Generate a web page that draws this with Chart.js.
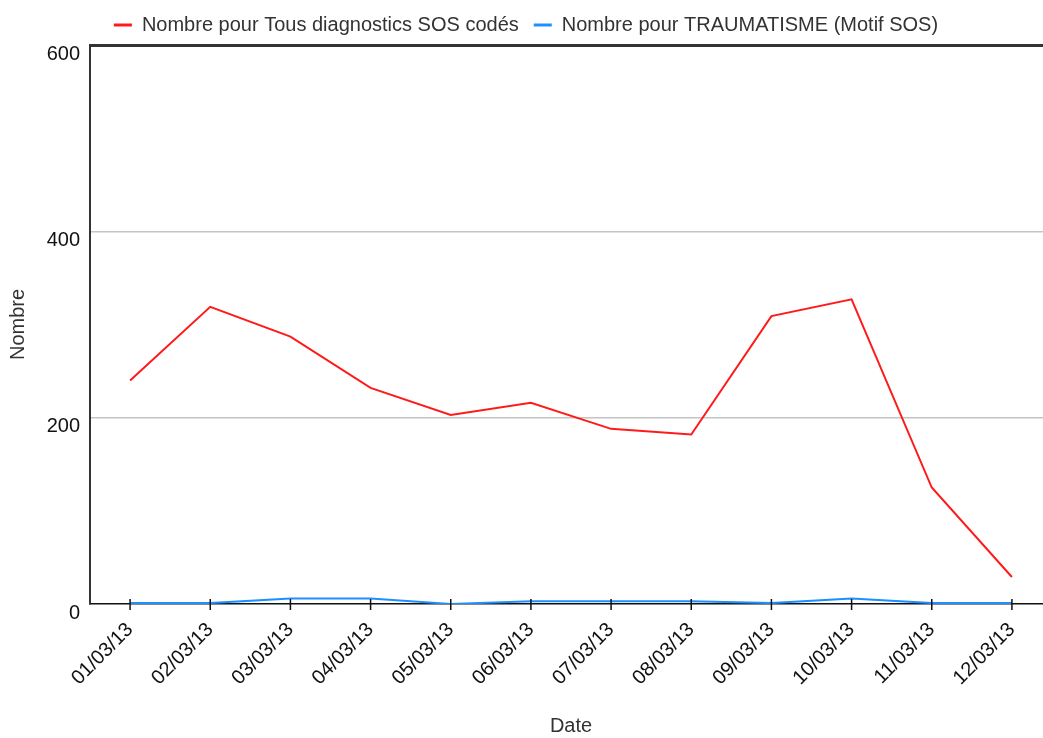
<!DOCTYPE html>
<html>
<head>
<meta charset="utf-8">
<script src="https://cdn.jsdelivr.net/npm/chart.js@4"></script>
<style>
  html, body { margin: 0; padding: 0; background: #fff; overflow: hidden; }
  #wrap { position: relative; width: 1052px; height: 738px; }
</style>
</head>
<body>
<div id="wrap"><canvas id="chart"></canvas></div>
<script>
// Dates (x categories)
const dates = ['01/03/13', '02/03/13', '03/03/13', '04/03/13', '05/03/13', '06/03/13',
  '07/03/13', '08/03/13', '09/03/13', '10/03/13', '11/03/13', '12/03/13'];

// Series values
const tousDiagnostics = [240, 319, 287, 232, 203, 216, 188, 182, 309, 327, 125, 29];
const traumatisme = [1, 1, 6, 6, 0, 3, 3, 3, 1, 6, 1, 1];

const yTicks = [0, 200, 400, 600];

const FONT = 'Arial, "Liberation Sans", sans-serif';

// x axis tick marks crossing the axis line
const crossTicks = {
  id: 'crossTicks',
  afterDraw: (chart) => {
    const c = chart.ctx, x = chart.scales.x, bottom = chart.chartArea.bottom;
    c.save();
    c.strokeStyle = '#111';
    c.lineWidth = 1.5;
    dates.forEach((d, i) => {
      const px = x.getPixelForValue(i);
      c.beginPath();
      c.moveTo(px, bottom - 5);
      c.lineTo(px, bottom + 6);
      c.stroke();
    });
    c.restore();
  }
};

const ctx = document.getElementById('chart').getContext('2d');
const chart = new Chart(ctx, {
  type: 'line',
  data: {
    labels: dates,
    datasets: [{
      label: 'Nombre pour Tous diagnostics SOS codés',
      data: tousDiagnostics,
      borderColor: '#ff1a1a',
      backgroundColor: '#ff1a1a',
      borderWidth: 2,
      pointRadius: 0,
      tension: 0
    }, {
      label: 'Nombre pour TRAUMATISME (Motif SOS)',
      data: traumatisme,
      borderColor: '#1e8fff',
      backgroundColor: '#1e8fff',
      borderWidth: 2,
      pointRadius: 0,
      tension: 0
    }]
  },
  options: {
    responsive: true,
    maintainAspectRatio: false,
    animation: false,
    layout: { padding: { left: 0, right: 0, top: 0, bottom: 0 } },
    plugins: {
      legend: {
        position: 'top',
        align: 'center',
        labels: {
          boxWidth: 18,
          boxHeight: 3,
          padding: 15,
          color: '#333',
          font: { family: FONT, size: 20 },
          generateLabels: (ch) => Chart.defaults.plugins.legend.labels.generateLabels(ch)
            .map(l => Object.assign(l, { lineWidth: 0 }))
        }
      },
      tooltip: { enabled: false }
    },
    scales: {
      x: {
        offset: true,
        grid: { display: false, drawTicks: false },
        border: { display: true, color: '#111', width: 1.5 },
        ticks: {
          color: '#111',
          font: { family: FONT, size: 20 },
          maxRotation: 45,
          minRotation: 45,
          padding: 14
        },
        title: {
          display: true,
          text: 'Date',
          color: '#333',
          font: { family: FONT, size: 20 },
          padding: { top: 0, bottom: 0 }
        },
        afterFit: (scale) => { scale.height = 134; }
      },
      y: {
        min: 0,
        max: 600,
        afterBuildTicks: (scale) => { scale.ticks = yTicks.map(v => ({ value: v })); },
        grid: {
          drawTicks: false,
          color: (c) => c.tick && c.tick.value === 600 ? '#333' : (c.tick && c.tick.value === 0 ? 'rgba(0,0,0,0)' : '#c4c4c4'),
          lineWidth: (c) => c.tick && c.tick.value === 600 ? 3 : 1.5
        },
        border: { display: true, color: '#333', width: 2 },
        ticks: {
          color: '#111',
          font: { family: FONT, size: 20 },
          padding: 10,
          labelOffset: 9
        },
        title: {
          display: true,
          text: 'Nombre',
          color: '#333',
          font: { family: FONT, size: 20 },
          padding: { top: 6, bottom: 0 }
        },
        afterFit: (scale) => { scale.width = 90; }
      }
    }
  },
  plugins: [crossTicks]
});
</script>
</body>
</html>
